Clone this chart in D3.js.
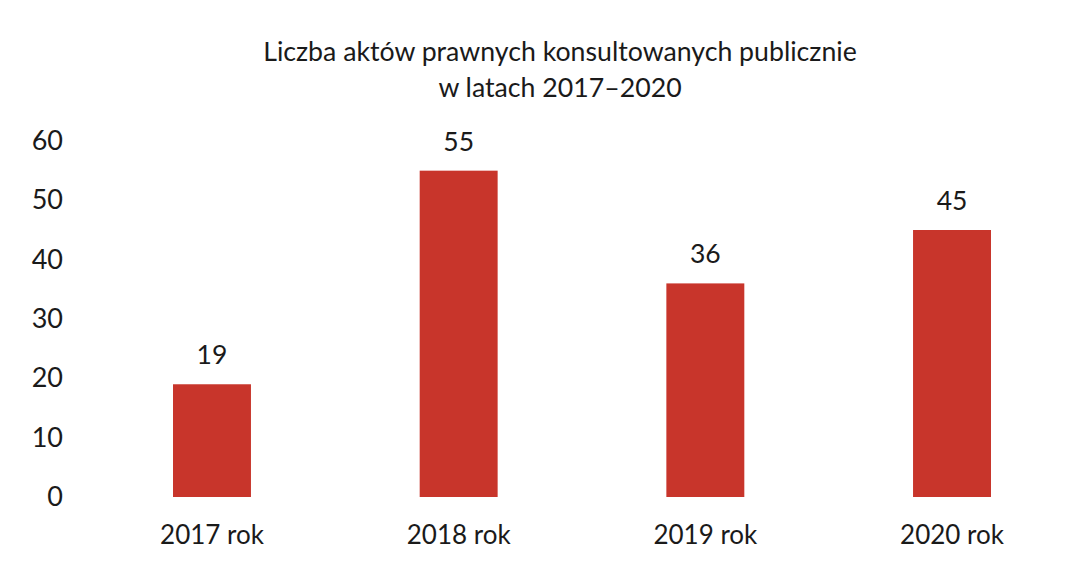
<!DOCTYPE html>
<html>
<head>
<meta charset="utf-8">
<script src="https://cdn.jsdelivr.net/npm/d3@7"></script>
<style>
  body { margin: 0; background: #fff; }
  text { font-family: Lato, "Open Sans", sans-serif; fill: #1a1a1a; }
</style>
</head>
<body>
<div id="chart"></div>
<script>
// Chart data
const years = ["2017 rok", "2018 rok", "2019 rok", "2020 rok"];
const counts = [19, 55, 36, 45];
const yTicks = [0, 10, 20, 30, 40, 50, 60];
const titleLines = ["Liczba aktów prawnych konsultowanych publicznie", "w latach 2017–2020"];

const width = 1091, height = 562;

const svg = d3.select("#chart")
    .append("svg")
    .attr("width", width)
    .attr("height", height);

// Scales
const x = d3.scaleBand()
    .domain(years)
    .range([88.65, 1075.35])
    .paddingInner(0.684)
    .paddingOuter(0.342);

const y = d3.scaleLinear()
    .domain([0, 60])
    .range([497, 141]);

// Title
svg.append("g")
    .selectAll("text")
    .data(titleLines)
    .enter()
    .append("text")
    .attr("x", 560)
    .attr("y", (d, i) => 61 + i * 36)
    .attr("text-anchor", "middle")
    .attr("font-size", 26.7)
    .text(d => d);

// Y axis (labels only)
const yAxis = svg.append("g")
    .attr("transform", "translate(63,0)")
    .call(d3.axisLeft(y).tickValues(yTicks).tickSize(0).tickPadding(0));
yAxis.select(".domain").remove();
yAxis.selectAll("text")
    .attr("font-size", 27)
    .attr("font-family", "Lato, 'Open Sans', sans-serif")
    .attr("fill", "#1a1a1a");

// Bars
svg.selectAll(".bar")
    .data(years)
    .enter()
    .append("rect")
    .attr("class", "bar")
    .attr("x", d => x(d))
    .attr("y", (d, i) => y(counts[i]))
    .attr("width", x.bandwidth())
    .attr("height", (d, i) => y(0) - y(counts[i]))
    .attr("fill", "#c8352b");

// Value labels
svg.selectAll(".val")
    .data(years)
    .enter()
    .append("text")
    .attr("class", "val")
    .attr("x", d => x(d) + x.bandwidth() / 2)
    .attr("y", (d, i) => y(counts[i]) - 20)
    .attr("text-anchor", "middle")
    .attr("font-size", 26.5)
    .text((d, i) => counts[i]);

// X axis (labels only)
const xAxis = svg.append("g")
    .attr("transform", "translate(0,520)")
    .call(d3.axisBottom(x).tickSize(0).tickPadding(0));
xAxis.select(".domain").remove();
xAxis.selectAll("text")
    .attr("dy", 0)
    .attr("y", 24)
    .attr("font-size", 26)
    .attr("font-family", "Lato, 'Open Sans', sans-serif")
    .attr("fill", "#1a1a1a");
</script>
</body>
</html>
